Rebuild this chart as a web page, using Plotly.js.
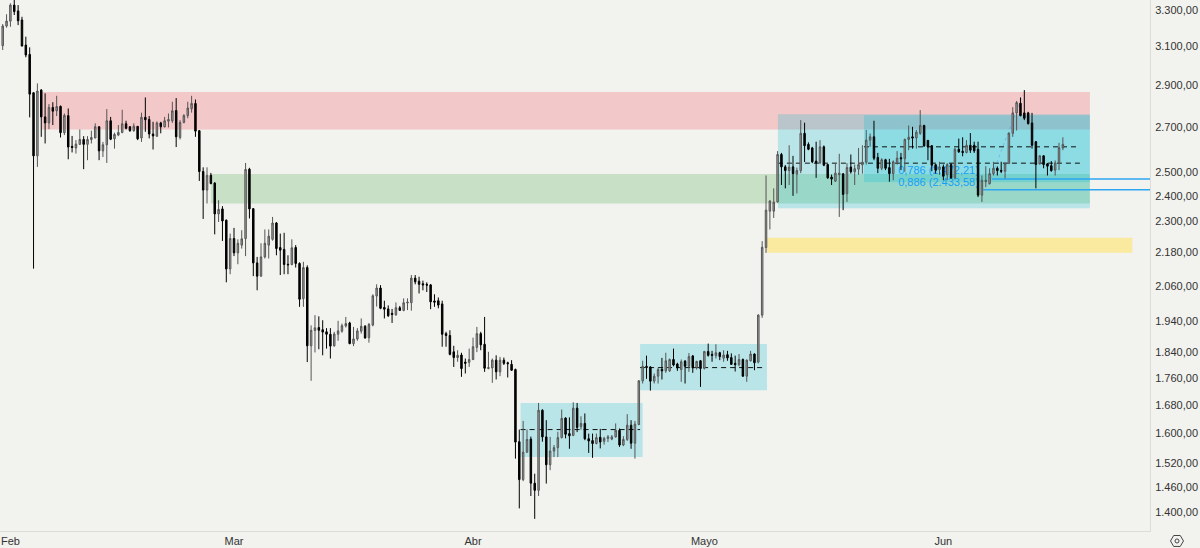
<!DOCTYPE html>
<html>
<head>
<meta charset="utf-8">
<script src="https://cdn.plot.ly/plotly-3.0.1.min.js"></script>
<style>html,body{margin:0;padding:0;background:#f2f2ee;}#c{width:1200px;height:548px;}</style>
</head>
<body>
<div id="c"></div>
<script>
const opens = [3105,3211,3238,3328,3295,3244,3108,3059,2865,2572,
2878,2749,2721,2794,2778,2799,2676,2755,2614,2607,
2623,2645,2623,2645,2652,2703,2594,2621,2731,2648,
2665,2677,2717,2703,2685,2705,2652,2747,2737,2670,
2660,2721,2703,2729,2731,2779,2654,2723,2755,2788,
2813,2685,2504,2426,2488,2455,2329,2349,2304,2120,
2233,2179,2208,2233,2514,2350,2142,2094,2164,2208,
2230,2293,2199,2192,2137,2136,2199,2140,2015,2125,
1859,1908,1918,1911,1904,1896,1859,1896,1906,1923,
1933,1866,1881,1906,1922,1885,1926,2024,2052,1985,
1980,1965,1960,1984,1975,2000,2001,2087,2076,2067,
2065,2063,2007,2008,1997,1898,1892,1840,1822,1830,
1808,1807,1816,1854,1898,1864,1788,1790,1814,1778,
1814,1806,1801,1785,1578,1479,1550,1585,1470,1452,
1665,1591,1517,1553,1562,1589,1643,1600,1595,1671,
1619,1628,1586,1581,1573,1590,1579,1587,1585,1591,
1609,1569,1584,1623,1574,1625,1751,1795,1793,1750,
1765,1786,1781,1781,1816,1802,1785,1811,1795,1827,
1791,1812,1789,1841,1832,1828,1837,1820,1831,1822,
1804,1800,1816,1765,1812,1833,1808,1959,2199,2340,
2340,2377,2578,2524,2508,2524,2493,2508,2673,2623,
2607,2549,2542,2612,2534,2480,2463,2490,2494,2411,
2523,2503,2514,2533,2544,2642,2657,2565,2518,2555,
2521,2495,2544,2564,2559,2645,2657,2652,2673,2709,
2641,2617,2533,2513,2524,2490,2534,2477,2601,2592,
2587,2619,2619,2601,2405,2461,2453,2495,2518,2509,
2505,2539,2673,2768,2814,2768,2768,2721,2635,2537,
2572,2537,2529,2510,2541,2607];
const highs = [3222,3276,3338,3357,3328,3262,3153,3096,2868,2911,
2883,2862,2810,2819,2850,2803,2765,2789,2661,2642,
2691,2660,2660,2685,2719,2705,2634,2786,2749,2676,
2711,2783,2731,2706,2719,2706,2769,2842,2753,2726,
2728,2726,2749,2765,2821,2839,2734,2762,2821,2850,
2832,2688,2522,2522,2498,2459,2384,2360,2307,2252,
2274,2230,2265,2541,2520,2352,2164,2215,2268,2268,
2317,2297,2252,2255,2170,2230,2208,2144,2146,2133,
1925,1959,1955,1942,1916,1916,1904,1940,1931,1953,
1937,1920,1916,1948,1926,1933,2030,2065,2062,2008,
1992,1980,2002,1990,2016,2016,2098,2098,2092,2078,
2072,2066,2030,2019,2008,1904,1909,1859,1845,1837,
1819,1850,1885,1920,1904,1953,1840,1819,1829,1824,
1822,1809,1814,1788,1611,1635,1611,1592,1494,1686,
1668,1637,1591,1569,1605,1667,1645,1645,1688,1686,
1648,1656,1600,1600,1600,1613,1591,1596,1596,1628,
1614,1593,1654,1637,1635,1753,1812,1828,1795,1773,
1791,1821,1837,1819,1850,1806,1816,1814,1836,1830,
1812,1814,1843,1866,1843,1864,1840,1845,1843,1835,
1828,1833,1819,1816,1843,1835,1962,2223,2487,2384,
2433,2593,2585,2532,2619,2572,2521,2734,2722,2632,
2612,2635,2642,2618,2537,2491,2540,2581,2497,2540,
2578,2534,2607,2619,2688,2672,2731,2585,2562,2559,
2559,2552,2593,2585,2649,2709,2703,2688,2781,2712,
2642,2619,2537,2546,2534,2540,2540,2607,2649,2655,
2642,2674,2635,2635,2487,2527,2518,2546,2526,2546,
2543,2678,2795,2825,2842,2878,2773,2768,2638,2575,
2575,2541,2549,2552,2630,2655];
const lows = [3082,3202,3207,3272,3216,3101,3044,2747,2121,2524,
2657,2627,2692,2711,2753,2654,2665,2557,2587,2582,
2620,2514,2553,2627,2650,2553,2567,2541,2642,2604,
2660,2673,2691,2680,2680,2642,2634,2680,2650,2600,
2657,2673,2700,2700,2721,2611,2645,2719,2743,2769,
2657,2464,2309,2371,2450,2249,2297,2224,2072,2101,
2167,2137,2195,2167,2311,2094,2044,2092,2158,2158,
2225,2170,2098,2101,2101,2133,2125,1987,1987,1808,
1751,1838,1848,1829,1850,1819,1856,1875,1901,1918,
1864,1858,1875,1898,1882,1869,1922,1988,1979,1948,
1953,1933,1957,1973,1972,1976,1974,2065,2033,2044,
2038,1979,1987,1982,1856,1856,1829,1793,1809,1763,
1773,1793,1814,1839,1845,1778,1786,1745,1755,1765,
1799,1761,1781,1533,1408,1475,1548,1438,1383,1438,
1578,1469,1503,1537,1537,1587,1587,1559,1593,1604,
1611,1582,1548,1535,1571,1560,1570,1577,1582,1589,
1564,1566,1580,1559,1533,1623,1743,1757,1722,1743,
1743,1755,1775,1778,1795,1781,1748,1743,1778,1775,
1785,1733,1785,1825,1809,1819,1814,1809,1812,1799,
1779,1795,1763,1748,1810,1783,1804,1950,2179,2268,
2313,2375,2447,2433,2447,2402,2412,2497,2545,2597,
2540,2477,2536,2527,2473,2447,2460,2317,2344,2377,
2495,2447,2490,2495,2534,2612,2553,2497,2510,2510,
2461,2467,2534,2510,2503,2597,2604,2604,2666,2612,
2553,2505,2495,2490,2467,2467,2473,2473,2585,2570,
2583,2585,2585,2397,2377,2438,2449,2487,2487,2497,
2475,2536,2657,2686,2752,2734,2713,2604,2433,2534,
2518,2487,2503,2487,2510,2597];
const closes = [3211,3238,3328,3291,3240,3103,3056,2858,2572,2873,
2749,2721,2794,2776,2798,2676,2756,2611,2609,2624,
2645,2623,2645,2654,2703,2594,2621,2731,2646,2668,
2677,2717,2696,2685,2706,2648,2747,2736,2670,2661,
2721,2703,2731,2737,2778,2657,2723,2755,2791,2813,
2683,2504,2426,2488,2453,2329,2347,2301,2120,2233,
2179,2215,2232,2513,2349,2142,2094,2164,2215,2242,
2293,2195,2189,2136,2135,2198,2140,2013,2125,1859,
1909,1917,1909,1903,1896,1858,1897,1907,1924,1931,
1866,1881,1907,1922,1884,1928,2025,2052,1982,1979,
1957,1961,1984,1975,2001,2003,2087,2074,2065,2063,
2062,2004,2003,1993,1896,1892,1832,1822,1829,1788,
1804,1816,1856,1898,1862,1789,1791,1814,1778,1814,
1804,1803,1783,1577,1479,1550,1584,1470,1452,1665,
1591,1517,1553,1562,1589,1642,1598,1594,1671,1617,
1628,1586,1580,1573,1589,1577,1587,1591,1591,1609,
1569,1584,1623,1574,1626,1751,1795,1791,1750,1765,
1785,1781,1812,1816,1799,1790,1809,1795,1825,1790,
1810,1788,1841,1829,1829,1837,1825,1830,1821,1801,
1800,1816,1765,1814,1833,1806,1959,2200,2344,2381,
2377,2578,2524,2508,2523,2495,2508,2673,2617,2601,
2546,2542,2612,2531,2477,2472,2497,2497,2408,2521,
2503,2516,2534,2544,2642,2657,2562,2518,2555,2518,
2495,2546,2562,2559,2645,2655,2652,2678,2709,2616,
2612,2531,2510,2524,2484,2534,2477,2601,2590,2587,
2619,2597,2594,2405,2467,2467,2495,2518,2508,2505,
2539,2673,2768,2817,2755,2743,2718,2619,2534,2572,
2534,2527,2508,2541,2608,2623];

const firstCandle = Date.UTC(2025, 0, 30);
const candleMs = 12 * 3600 * 1000;
const dates = opens.map((_, i) => new Date(firstCandle + i * candleMs).toISOString().slice(0, 19));

const monthTicks = ['2025-01-31', '2025-03-01', '2025-04-01', '2025-05-01', '2025-06-01'];
const monthLabels = ['Feb', 'Mar', 'Abr', 'Mayo', 'Jun'];
const priceTicks = [3300, 3100, 2900, 2700, 2500, 2400, 2300, 2180, 2060, 1940, 1840, 1760, 1680, 1600, 1520, 1460, 1400];
const priceLabels = ['3.300,00', '3.100,00', '2.900,00', '2.700,00', '2.500,00', '2.400,00', '2.300,00', '2.180,00', '2.060,00', '1.940,00', '1.840,00', '1.760,00', '1.680,00', '1.600,00', '1.520,00', '1.460,00', '1.400,00'];

const viewDates = ['2025-01-29 15:36', '2025-06-27 19:12'];
const viewPrices = [1354.6, 3357];

// zones: start, end, high price, low price, fill
const zones = [
  ['2025-02-04 02:00', '2025-06-20', 2868, 2691, 'rgba(245,50,75,0.22)'],
  ['2025-02-26', '2025-06-20', 2493, 2371, 'rgba(76,175,80,0.25)'],
  ['2025-04-07 04:00', '2025-04-23', 1686, 1537, 'rgba(0,188,212,0.235)'],
  ['2025-04-22 16:00', '2025-05-09 03:00', 1865, 1723, 'rgba(0,188,212,0.235)'],
  ['2025-05-10 13:00', '2025-06-20', 2762, 2352, 'rgba(0,188,212,0.235)'],
  ['2025-05-21 17:00', '2025-06-20', 2757, 2459, 'rgba(0,188,212,0.235)'],
  ['2025-05-09 03:00', '2025-06-25 12:00', 2236, 2179, 'rgba(255,225,81,0.5)']
];
// midlines: start, end, price
const midlines = [
  ['2025-04-07 04:00', '2025-04-22 16:00', 1611],
  ['2025-04-22 16:00', '2025-05-08 22:00', 1791],
  ['2025-05-10 13:00', '2025-06-18 17:00', 2540],
  ['2025-05-21 17:00', '2025-06-18 17:00', 2612]
];
const fibLevels = [['2025-06-07 07:00', 2472], ['2025-06-06 04:00', 2427]];
const fibLabels = ['0,786 (2.472,21)', '0,886 (2.433,58)'];
const fibLabelPrices = [[2489, 2540], [2438, 2489]];

const shapes = [];
zones.forEach(z => shapes.push({type: 'rect', layer: 'below', xref: 'x', yref: 'y', x0: z[0], x1: z[1], y0: z[3], y1: z[2], fillcolor: z[4], line: {width: 0}}));
midlines.forEach(m => shapes.push({type: 'line', layer: 'below', xref: 'x', yref: 'y', x0: m[0], x1: m[1], y0: m[2], y1: m[2], line: {color: '#111', width: 1, dash: '5px,4px'}}));
shapes.push({type: 'line', layer: 'below', xref: 'x', yref: 'y', x0: '2025-06-06 19:00', x1: '2025-06-11 07:00', y0: 2446, y1: 2853, line: {color: 'rgba(41,98,255,0.3)', width: 1, dash: '3px,3px'}});
fibLevels.forEach(f => shapes.push({type: 'line', layer: 'below', xref: 'x', yref: 'y', x0: f[0], x1: viewDates[1], y0: f[1], y1: f[1], line: {color: '#2ea6f2', width: 1.5}}));
fibLabels.forEach((t, i) => shapes.push({type: 'rect', layer: 'below', xref: 'x', yref: 'y', x0: '2025-05-25 18:00', x1: '2025-06-06 12:00', y0: fibLabelPrices[i][0], y1: fibLabelPrices[i][1], line: {width: 0}, fillcolor: 'rgba(0,0,0,0)', label: {text: t, textposition: 'middle left', padding: 0, font: {family: 'Liberation Sans, Arial', size: 11, color: '#15a0f8'}}}));
// settings icon in the corner
shapes.push({type: 'path', xref: 'paper', yref: 'paper', path: 'M 1.01783 -0.0188 L 1.0206 -0.0085 L 1.0263 -0.0085 L 1.02913 -0.0188 L 1.0263 -0.0291 L 1.0206 -0.0291 Z', line: {color: '#444', width: 1}});
shapes.push({type: 'circle', xref: 'paper', yref: 'paper', x0: 1.02174, x1: 1.02522, y0: -0.0226, y1: -0.015, line: {color: '#444', width: 1}});

const trace = {
  type: 'candlestick', x: dates, open: opens, high: highs, low: lows, close: closes,
  increasing: {line: {color: '#555', width: 1}, fillcolor: '#a2a2a2'},
  decreasing: {line: {color: '#000', width: 1}, fillcolor: '#000'},
  whiskerwidth: 0, hoverinfo: 'skip', showlegend: false
};

const layout = {
  width: 1200, height: 548,
  margin: {l: 0, r: 50, t: 0, b: 17, pad: 0},
  paper_bgcolor: '#f2f2ee', plot_bgcolor: '#f2f2ee',
  showlegend: false, dragmode: false, hovermode: false, boxgap: 0.45,
  font: {family: 'Liberation Sans, Arial', size: 11, color: '#333'},
  xaxis: {type: 'date', range: viewDates, rangeslider: {visible: false}, tickmode: 'array', tickvals: monthTicks, ticktext: monthLabels,
    showgrid: false, zeroline: false, showline: true, linecolor: '#dcdcd8', linewidth: 1, ticks: '', tickfont: {size: 11, color: '#333'}},
  yaxis: {type: 'log', side: 'right', range: viewPrices.map(Math.log10), tickmode: 'array', tickvals: priceTicks, ticktext: priceLabels,
    showgrid: false, zeroline: false, showline: true, linecolor: '#dcdcd8', linewidth: 1, ticks: '', ticklabelstandoff: 2, tickfont: {size: 11, color: '#333'}},
  shapes: shapes
};
Plotly.newPlot('c', [trace], layout, {displayModeBar: false, staticPlot: true});
</script>
</body>
</html>
